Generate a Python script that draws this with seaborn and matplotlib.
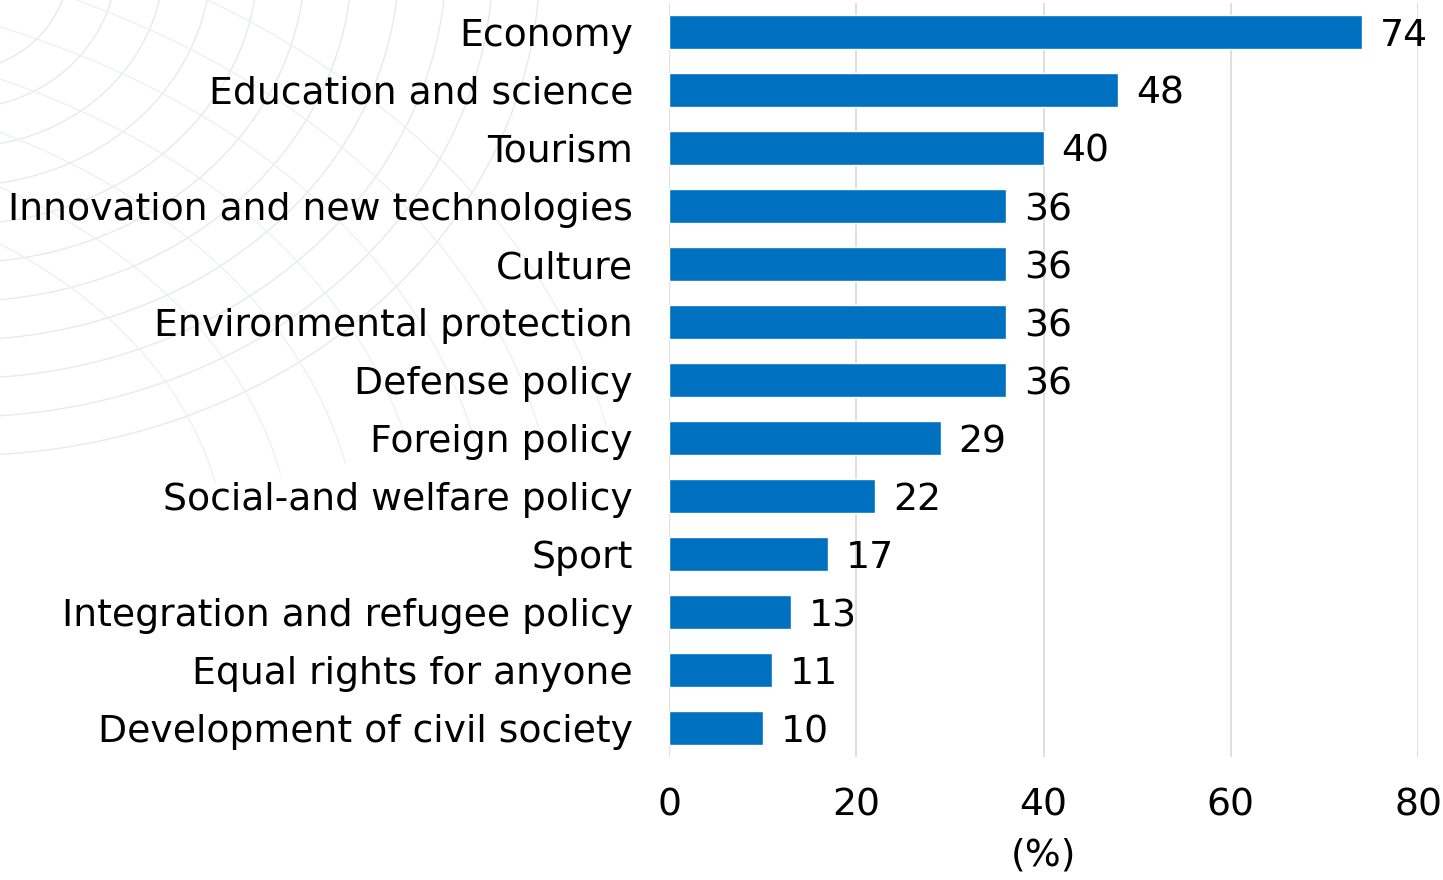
import matplotlib
matplotlib.use("Agg")
import matplotlib.pyplot as plt
import seaborn as sns
import pandas as pd
import numpy as np

categories = ["Economy", "Education and science", "Tourism",
              "Innovation and new technologies", "Culture",
              "Environmental protection", "Defense policy", "Foreign policy",
              "Social-and welfare policy", "Sport",
              "Integration and refugee policy", "Equal rights for anyone",
              "Development of civil society"]
values = [74, 48, 40, 36, 36, 36, 36, 29, 22, 17, 13, 11, 10]
xticks = [0, 20, 40, 60, 80]
xlabel = "(%)"

df = pd.DataFrame({"category": categories, "value": values})

sns.set_theme(style="white")
plt.rcParams['font.family'] = ['DejaVu Sans']

fig = plt.figure(figsize=(14.43, 8.8), dpi=100)

# faint decorative globe-like arcs in the background (top-left)
bg = fig.add_axes([0, 0, 1, 1], zorder=0)
bg.set_xlim(0, 1443)
bg.set_ylim(880, 0)
bg.axis("off")
t = np.linspace(-0.3, np.pi / 2 + 0.2, 200)
for rx in np.linspace(110, 580, 11):
    ry = rx * 0.82 + 20
    bg.plot(-40 + rx * np.cos(t), -40 + ry * np.sin(t), color="#e6eaef", lw=1.0)
t2 = np.linspace(-np.pi / 2 - 0.4, -0.2, 200)
for r in np.linspace(520, 900, 7):
    bg.plot(-320 + r * np.cos(t2) * 1.05, 560 + r * np.sin(t2) * 0.75,
            color="#eceff3", lw=0.9)

ax = fig.add_axes([669 / 1443, 1 - 757 / 880, (1418 - 669) / 1443, 754 / 880], zorder=1)
ax.patch.set_alpha(0)

sns.barplot(data=df, x="value", y="category", color="#0070C0",
            saturation=1, width=0.58, ax=ax, zorder=3)

fs = 27.2
ax.set_xlim(0, 80)
ax.set_xticks(xticks)
ax.xaxis.grid(True, color="#d9d9d9", lw=1.2, zorder=0)
ax.yaxis.grid(False)
for s in ax.spines.values():
    s.set_visible(False)
ax.tick_params(axis="x", length=0, pad=22, labelsize=fs, labelcolor="black")
ax.tick_params(axis="y", length=0, pad=26, labelsize=fs, labelcolor="black")
ax.set_ylabel("")
ax.set_xlabel(xlabel, fontsize=fs, labelpad=10, color="black")

for i, v in enumerate(values):
    ax.text(v + 1.9, i, str(v), va="center_baseline", ha="left", fontsize=fs, color="black")

fig.savefig("out.png", dpi=100)
